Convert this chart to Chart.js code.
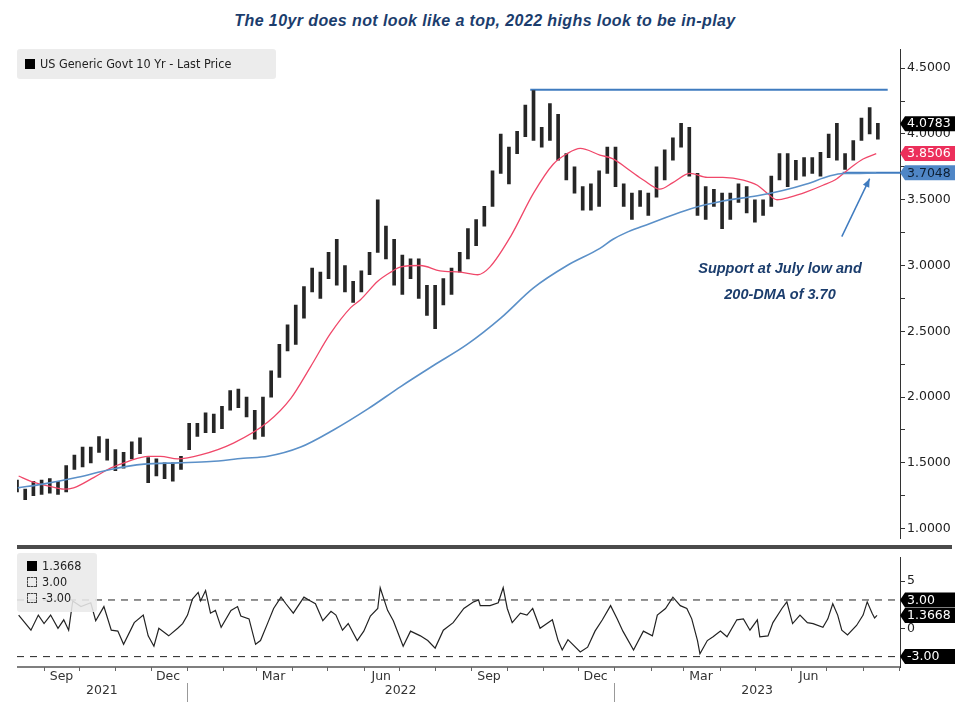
<!DOCTYPE html>
<html lang="en">
<head>
<meta charset="UTF-8">
<title>US 10yr</title>
<script src="https://cdn.jsdelivr.net/npm/chart.js"></script>
<style>
  body { margin: 0; width: 960px; height: 702px; background: #fff; position: relative; overflow: hidden; font-family: "DejaVu Sans", sans-serif; }
  #title { position: absolute; left: 0; width: 970px; top: 12px; text-align: center; color: #1b3d6d; font: italic bold 16px "Liberation Sans", sans-serif; letter-spacing: 0.4px; }
  canvas { position: absolute; left: 0; }
  #main { top: 40px; }
  #osc { top: 548px; }
  .box { position: absolute; background: rgba(233,233,233,0.88); border-radius: 3px; color: #222; font-size: 12.5px; font-family: "DejaVu Sans Condensed", "DejaVu Sans", sans-serif; }
  .sq { display: inline-block; width: 10px; height: 10px; background: #000; vertical-align: -1px; margin-right: 5px; }
  .dsq { display: inline-block; width: 8px; height: 8px; border: 1px dashed #444; vertical-align: -1px; margin-right: 5px; }
  #sep { position: absolute; left: 17px; top: 545px; width: 935px; height: 4px; background: #4b4b4b; }
  #note { position: absolute; left: 655px; width: 250px; top: 255px; text-align: center; color: #1b3d6d; font: italic bold 14.5px "Liberation Sans", sans-serif; line-height: 26px; }
</style>
</head>
<body>
<div id="title">The 10yr does not look like a top, 2022 highs look to be in-play</div>
<canvas id="main" width="960" height="508"></canvas>
<canvas id="osc" width="960" height="154"></canvas>
<div id="sep"></div>
<div class="box" style="left:17px;top:49px;width:259px;height:30px;line-height:30px;padding-left:8px;box-sizing:border-box;"><span class="sq"></span>US Generic Govt 10 Yr - Last Price</div>
<div class="box" style="left:17px;top:553px;width:80px;height:59px;padding:5px 0 0 10px;box-sizing:border-box;line-height:16px;">
  <div><span class="sq"></span>1.3668</div>
  <div><span class="dsq"></span>3.00</div>
  <div><span class="dsq"></span>-3.00</div>
</div>
<div id="note">Support at July low and<br>200-DMA of 3.70</div>

<script>
// weekly bars, week 0 = 9 Aug 2021
const weekHigh = [1.37,1.30,1.36,1.37,1.38,1.36,1.48,1.56,1.62,1.62,
                  1.70,1.68,1.60,1.58,1.66,1.69,1.54,1.53,1.50,1.50,
                  1.55,1.80,1.80,1.88,1.87,1.93,2.05,2.06,2.00,1.90,
                  2.00,2.20,2.40,2.55,2.70,2.84,2.98,2.95,3.10,3.20,
                  3.00,2.88,2.96,3.10,3.50,3.30,3.20,3.08,3.05,3.05,
                  2.85,2.85,2.90,2.98,3.10,3.28,3.35,3.45,3.72,4.00,
                  3.90,4.02,4.22,4.33,4.05,4.23,4.15,3.85,3.75,3.60,
                  3.62,3.72,3.90,3.90,3.62,3.55,3.57,3.55,3.75,3.88,
                  3.97,4.08,4.05,3.70,3.60,3.58,3.55,3.55,3.62,3.60,
                  3.50,3.50,3.68,3.85,3.85,3.80,3.82,3.82,3.86,4.00,
                  4.08,3.85,3.95,4.12,4.20,4.08];
const weekLow  = [1.28,1.22,1.25,1.26,1.27,1.26,1.28,1.45,1.47,1.50,
                  1.58,1.52,1.44,1.46,1.53,1.57,1.35,1.40,1.38,1.36,
                  1.45,1.60,1.70,1.73,1.73,1.76,1.90,1.92,1.85,1.68,
                  1.70,2.00,2.15,2.35,2.40,2.60,2.80,2.75,2.90,2.85,
                  2.80,2.72,2.80,2.93,3.10,3.05,2.85,2.78,2.90,2.75,
                  2.62,2.52,2.70,2.78,2.95,3.05,3.15,3.30,3.45,3.70,
                  3.62,3.85,3.98,3.95,3.90,3.95,3.80,3.65,3.55,3.42,
                  3.42,3.45,3.70,3.60,3.45,3.35,3.45,3.38,3.52,3.65,
                  3.80,3.90,3.68,3.38,3.35,3.45,3.28,3.35,3.48,3.40,
                  3.33,3.38,3.45,3.65,3.60,3.65,3.68,3.70,3.68,3.82,
                  3.80,3.73,3.80,3.95,4.00,3.96];

// 50-day and 200-day moving averages
const ma50Week  = [0.2,1.7,4.1,5.7,6.9,9.4,11.4,13.5,16,17.5,19.6,22.4,26.4,30.6,33.4,35.8,38.2,40.7,41.9,44.0,45.6,46.8,49.2,51.6,54.1,56.2,57.7,60.2,63,65.4,67.1,68.7,71.1,72.7,74.8,76.4,78.4,80,82.1,84.2,86.1,88.6,90.3,91.5,92.7,94.3,96.3,98.3,100,101.6,103.2,104.8];
const ma50Value = [1.40,1.36,1.32,1.30,1.31,1.39,1.46,1.51,1.55,1.55,1.53,1.56,1.65,1.81,1.99,2.23,2.48,2.68,2.74,2.88,2.95,2.99,3.00,2.96,2.95,2.93,2.99,3.22,3.55,3.77,3.85,3.89,3.84,3.81,3.72,3.65,3.58,3.63,3.70,3.67,3.67,3.65,3.61,3.55,3.50,3.52,3.56,3.61,3.66,3.74,3.81,3.85];
const ma200Week  = [0.1,3.3,7.4,11.4,15.5,19.6,23.6,27.6,30.6,34.6,38.6,42.8,46.8,50.8,54.9,59,63,67.1,71.1,72.7,74.3,76.4,78.1,82.1,86.1,90.3,93.4,96.3,99.1,100.7,102.8,104.8];
const ma200Value = [1.31,1.34,1.39,1.45,1.49,1.50,1.51,1.535,1.55,1.62,1.75,1.91,2.08,2.24,2.40,2.60,2.83,3.00,3.13,3.20,3.25,3.30,3.34,3.43,3.49,3.53,3.57,3.62,3.68,3.70,3.70,3.705];

// oscillator (lower panel)
const oscWeek = [0.2,1.7,2.6,3.3,4.1,5.0,5.7,6.3,6.8,7.8,9.0,9.6,10.6,11.5,12.3,13.0,14.3,15.4,16.0,16.7,
  17.3,18.5,19.6,20.2,20.8,21.4,22.1,22.4,23.0,23.6,24.2,24.9,26.1,26.9,27.3,28.3,29.1,29.7,30.6,31.3,
  32.2,32.8,33.7,35.0,35.8,36.4,37.3,38.3,38.9,39.7,40.4,41.5,42.3,43.1,44.0,44.3,45.2,45.9,47.1,48.0,
  49.2,50.1,51.0,52.0,53.2,54.5,55.7,56.3,56.5,57.7,58.7,59.3,59.8,60.4,61.4,62.2,62.9,63.8,65.3,66.0,
  66.5,67.2,68.7,69.6,70.5,71.4,72.4,73.2,73.9,75.2,76.4,77.5,78.1,79.1,80.0,80.9,81.7,82.3,83.0,83.3,
  84.2,84.9,85.8,86.6,87.8,88.6,89.4,90.3,90.6,91.6,92.2,93.3,93.9,94.6,95.5,96.4,97.1,98.3,98.9,99.5,
  100.1,100.6,101.3,102.4,103.2,103.7,104.3,104.6,104.9];
const oscValue = [1.4,-0.2,1.4,0.5,1.4,0.0,0.9,-0.2,2.9,2.3,2.7,0.8,2.3,-0.2,-0.3,-1.7,0.6,1.4,-0.8,-1.9,
  0.0,-0.8,0.0,0.5,1.4,3.1,3.8,2.9,4.0,1.6,1.9,0.1,1.9,2.3,1.3,1.0,-1.7,-1.3,0.6,2.1,
  3.3,2.6,1.6,3.3,2.9,2.6,0.8,1.8,1.4,-0.2,0.5,-1.3,-0.3,1.3,2.1,4.3,1.9,0.8,-1.9,-0.3,
  -0.8,-1.3,-2.1,-0.2,0.6,2.1,2.8,3.0,2.4,2.4,2.7,4.3,2.1,0.6,1.6,1.4,2.1,0.0,0.9,-1.3,
  -2.3,-1.2,-2.5,-2.0,-0.3,0.9,2.4,1.0,-0.3,-2.3,-0.3,-0.8,1.4,2.1,3.3,2.4,2.1,1.0,-1.3,-2.7,
  -1.3,-0.9,-0.3,-0.9,0.9,1.0,-0.2,0.9,-0.9,-0.8,0.6,2.1,2.8,0.5,1.4,0.6,0.5,0.1,1.0,2.6,
  1.4,-0.2,-0.7,0.3,1.4,2.8,1.6,1.1,1.37];
const oscBands = [3, -3];

// levels and annotation
const resistanceLevel = 4.336, resistanceWeeks = [62.6, 106.2];
const supportLevel = 3.7048, supportWeeks = [100.7, 107.7];
const arrowFrom = [100.6, 3.22], arrowTo = [104.0, 3.66];
const lastPrice = 4.0783, lastMa50 = 3.8506, lastMa200 = 3.7048, lastOsc = 1.3668;

const priceTicks = [1.0,1.25,1.5,1.75,2.0,2.25,2.5,2.75,3.0,3.25,3.5,3.75,4.0,4.25,4.5];
const oscTicks = [0, 5];
const monthLabels = [[2021,8,'Sep'],[2021,11,'Dec'],[2022,2,'Mar'],[2022,5,'Jun'],[2022,8,'Sep'],[2022,11,'Dec'],[2023,2,'Mar'],[2023,5,'Jun']];
const yearLabels = ['2021','2022','2023'];

const X_MIN = 0, X_MAX = 107.7;
const origin = Date.UTC(2021, 7, 9);
function weekOf(y, m, d) { return (Date.UTC(y, m, d) - origin) / (7 * 864e5); }

function tag(ctx, yPix, text, bg, fg, left) {
  const h = 15, w = 50;
  ctx.save();
  ctx.fillStyle = bg;
  ctx.beginPath();
  ctx.moveTo(left, yPix);
  ctx.lineTo(left + 5, yPix - h / 2);
  ctx.lineTo(left + 5 + w, yPix - h / 2);
  ctx.lineTo(left + 5 + w, yPix + h / 2);
  ctx.lineTo(left + 5, yPix + h / 2);
  ctx.closePath();
  ctx.fill();
  ctx.fillStyle = fg;
  ctx.font = '12.5px "DejaVu Sans"';
  ctx.textBaseline = 'middle';
  ctx.textAlign = 'left';
  ctx.fillText(text, left + 7, yPix + 0.5);
  ctx.restore();
}

const yAxisStyle = {
  position: 'right',
  afterFit: s => { s.width = 60; },
  grid: { drawOnChartArea: false, tickLength: 5, color: '#333' },
  border: { color: '#333', width: 1 },
};

// main panel
const mainDecor = {
  id: 'mainDecor',
  afterDatasetsDraw(chart) {
    const { ctx, scales: { x, y } } = chart;
    const x0 = x.getPixelForValue(arrowFrom[0]), y0 = y.getPixelForValue(arrowFrom[1]);
    const x1 = x.getPixelForValue(arrowTo[0]), y1 = y.getPixelForValue(arrowTo[1]);
    const a = Math.atan2(y1 - y0, x1 - x0);
    ctx.save();
    ctx.strokeStyle = '#3f7bbf'; ctx.fillStyle = '#3f7bbf'; ctx.lineWidth = 1.5;
    ctx.beginPath(); ctx.moveTo(x0, y0); ctx.lineTo(x1, y1); ctx.stroke();
    ctx.beginPath();
    ctx.moveTo(x1, y1);
    ctx.lineTo(x1 - 9 * Math.cos(a - 0.4), y1 - 9 * Math.sin(a - 0.4));
    ctx.lineTo(x1 - 9 * Math.cos(a + 0.4), y1 - 9 * Math.sin(a + 0.4));
    ctx.closePath(); ctx.fill();
    ctx.restore();
  },
  afterDraw(chart) {
    const { ctx, scales: { y }, chartArea } = chart;
    const left = chartArea.right;
    tag(ctx, y.getPixelForValue(lastMa200), lastMa200.toFixed(4), '#4f86c6', '#0d1f33', left);
    tag(ctx, y.getPixelForValue(lastMa50), lastMa50.toFixed(4), '#ec2f5b', '#fff', left);
    tag(ctx, y.getPixelForValue(lastPrice), lastPrice.toFixed(4), '#000', '#fff', left);
  }
};

new Chart(document.getElementById('main'), {
  type: 'bar',
  data: {
    datasets: [
      {
        type: 'line', data: ma200Week.map((w, i) => ({ x: w, y: ma200Value[i] })),
        borderColor: '#5b90c8', borderWidth: 1.6, pointRadius: 0, cubicInterpolationMode: 'monotone'
      },
      {
        type: 'line', data: ma50Week.map((w, i) => ({ x: w, y: ma50Value[i] })),
        borderColor: '#f0486a', borderWidth: 1.3, pointRadius: 0, cubicInterpolationMode: 'monotone'
      },
      {
        data: weekLow.map((lo, i) => ({ x: i, y: [lo, weekHigh[i]] })),
        backgroundColor: '#262626', borderWidth: 0, barThickness: 3
      },
      {
        type: 'line', data: resistanceWeeks.map(w => ({ x: w, y: resistanceLevel })),
        borderColor: '#3f7bbf', borderWidth: 2, pointRadius: 0
      },
      {
        type: 'line', data: supportWeeks.map(w => ({ x: w, y: supportLevel })),
        borderColor: '#3f7bbf', borderWidth: 2, pointRadius: 0
      }
    ]
  },
  options: {
    responsive: false, animation: false,
    layout: { padding: { left: 17, top: 7, bottom: 3, right: 0 } },
    plugins: { legend: { display: false }, tooltip: { enabled: false } },
    scales: {
      x: { type: 'linear', min: X_MIN, max: X_MAX, display: false, offset: false },
      y: Object.assign({}, yAxisStyle, {
        min: 0.925, max: 4.642,
        afterBuildTicks: s => { s.ticks = priceTicks.map(v => ({ value: v })); },
        ticks: {
          autoSkip: false, padding: 2, color: '#222', font: { family: 'DejaVu Sans', size: 12.5 },
          callback: v => (Math.round(v * 100) % 50 === 0 ? v.toFixed(4) : '')
        }
      })
    }
  },
  plugins: [mainDecor]
});

// lower panel
const oscDecor = {
  id: 'oscDecor',
  afterDraw(chart) {
    const { ctx, scales: { x, y }, chartArea } = chart;
    const b = chartArea.bottom;
    ctx.save();
    ctx.strokeStyle = '#555'; ctx.lineWidth = 1.5;
    ctx.beginPath(); ctx.moveTo(chartArea.left, b); ctx.lineTo(chartArea.right, b); ctx.stroke();
    ctx.lineWidth = 1; ctx.strokeStyle = '#666';
    for (let yr = 2021; yr <= 2023; yr++) {
      for (let m = 0; m < 12; m++) {
        const w = weekOf(yr, m, 1);
        if (w < X_MIN || w > X_MAX) continue;
        const px = Math.round(x.getPixelForValue(w)) + 0.5;
        ctx.beginPath(); ctx.moveTo(px, b); ctx.lineTo(px, b + 4); ctx.stroke();
      }
    }
    ctx.fillStyle = '#333';
    ctx.font = '12.5px "DejaVu Sans"';
    ctx.textAlign = 'center'; ctx.textBaseline = 'middle';
    monthLabels.forEach(([yr, m, t]) => {
      ctx.fillText(t, x.getPixelForValue(weekOf(yr, m, 16)), b + 10);
    });
    const j22 = weekOf(2022, 0, 1), j23 = weekOf(2023, 0, 1);
    const yearMid = [(X_MIN + j22) / 2, (j22 + j23) / 2, (j23 + X_MAX) / 2];
    yearLabels.forEach((t, i) => ctx.fillText(t, x.getPixelForValue(yearMid[i]), b + 24));
    ctx.strokeStyle = '#999';
    [j22, j23].forEach(w => {
      const px = Math.round(x.getPixelForValue(w)) + 0.5;
      ctx.beginPath(); ctx.moveTo(px, b + 16); ctx.lineTo(px, b + 35); ctx.stroke();
    });
    ctx.restore();
    const left = chartArea.right;
    tag(ctx, y.getPixelForValue(oscBands[0]), oscBands[0].toFixed(2), '#000', '#fff', left);
    tag(ctx, y.getPixelForValue(lastOsc), lastOsc.toFixed(4), '#000', '#fff', left);
    tag(ctx, y.getPixelForValue(oscBands[1]), oscBands[1].toFixed(2), '#000', '#fff', left);
  }
};

new Chart(document.getElementById('osc'), {
  type: 'line',
  data: {
    datasets: [
      ...oscBands.map(v => ({
        data: [{ x: X_MIN, y: v }, { x: X_MAX, y: v }],
        borderColor: '#222', borderWidth: 1, borderDash: [7, 6], pointRadius: 0
      })),
      {
        data: oscWeek.map((w, i) => ({ x: w, y: oscValue[i] })),
        borderColor: '#222', borderWidth: 1.2, pointRadius: 0
      }
    ]
  },
  options: {
    responsive: false, animation: false,
    layout: { padding: { left: 17, top: 3, bottom: 35, right: 0 } },
    plugins: { legend: { display: false }, tooltip: { enabled: false } },
    scales: {
      x: { type: 'linear', min: X_MIN, max: X_MAX, display: false },
      y: Object.assign({}, yAxisStyle, {
        min: -4.1, max: 7.5,
        afterBuildTicks: s => { s.ticks = oscTicks.map(v => ({ value: v })); },
        ticks: { autoSkip: false, padding: 2, color: '#222', font: { family: 'DejaVu Sans', size: 12.5 } }
      })
    }
  },
  plugins: [oscDecor]
});
</script>
</body>
</html>
